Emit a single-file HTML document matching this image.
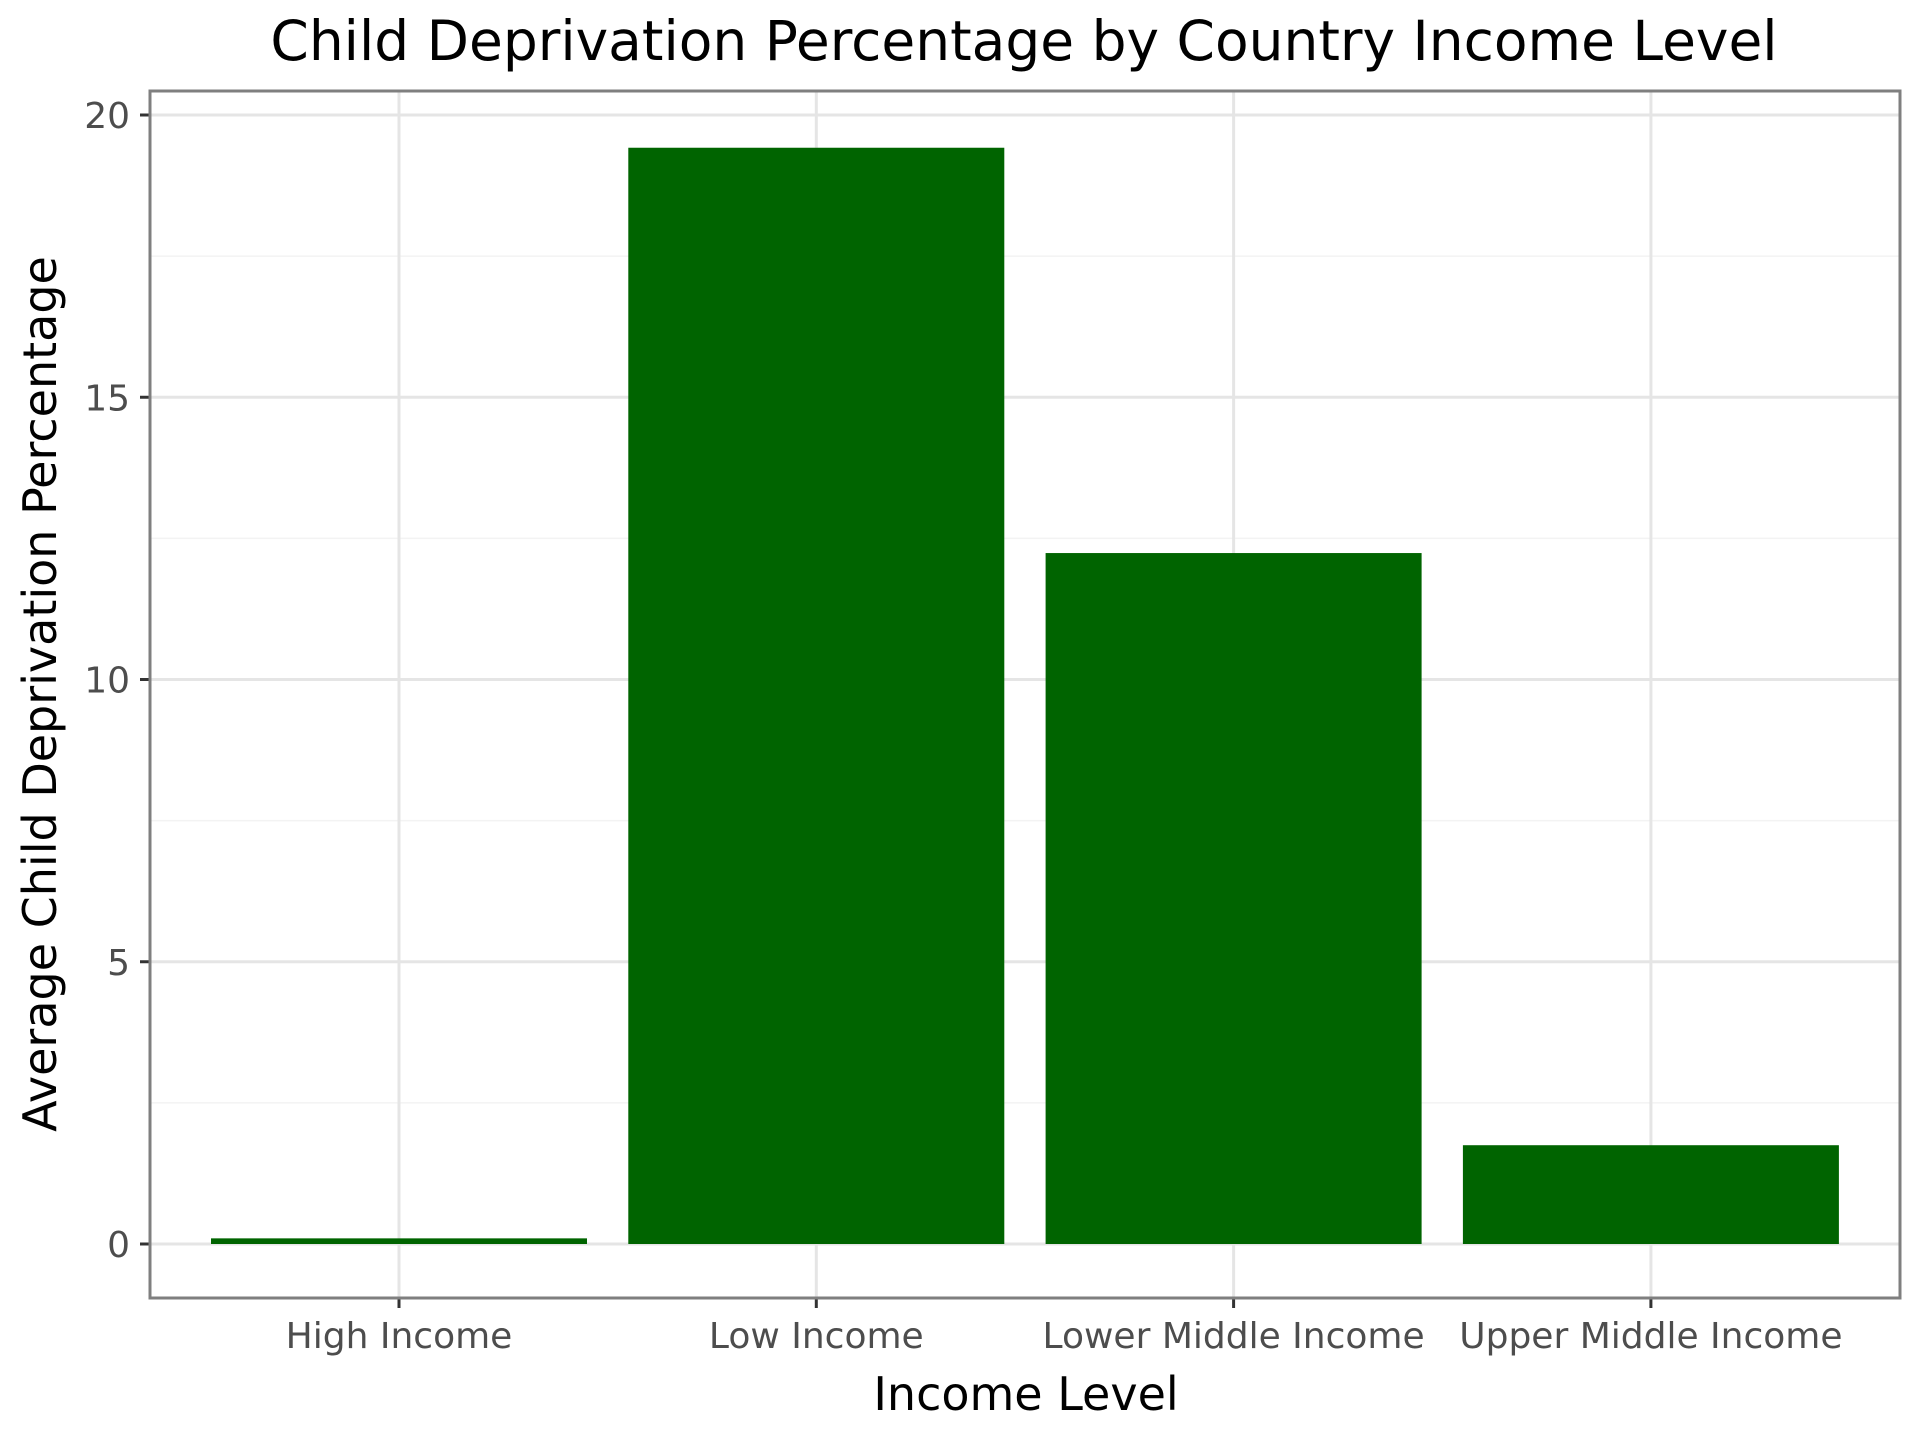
<!DOCTYPE html>
<html><head><meta charset="utf-8"><style>
html,body{margin:0;padding:0;background:#fff}
svg{display:block;font-family:"DejaVu Sans","Liberation Sans",sans-serif}
</style></head><body>
<svg id="chart" width="1920" height="1440">
<text x="1024" y="60" text-anchor="middle" font-size="55" fill="#000">Child Deprivation Percentage by Country Income Level</text>
<g id="grid"></g><g id="bars"></g><g id="axes"></g>
<rect x="150" y="91" width="1750" height="1207" fill="none" stroke="#7f7f7f" stroke-width="3"/>
<text x="1026" y="1410" text-anchor="middle" font-size="46" fill="#000">Income Level</text>
<text transform="translate(56,694) rotate(-90)" text-anchor="middle" font-size="46" fill="#000">Average Child Deprivation Percentage</text>
</svg>
<script>
const categories=["High Income","Low Income","Lower Middle Income","Upper Middle Income"];
const values=[0.1,19.42,12.24,1.75];
const yTicks=[0,5,10,15,20];
const yMinor=[2.5,7.5,12.5,17.5];
const NS="http://www.w3.org/2000/svg";
const y=v=>1244-v*(1244-115)/20;
const x=i=>399+i*417.3;
const bw=376;
function mk(t,a,p){const e=document.createElementNS(NS,t);for(const k in a)e.setAttribute(k,a[k]);p.appendChild(e);return e;}
const g=document.getElementById('grid'),b=document.getElementById('bars'),ax=document.getElementById('axes');
yMinor.forEach(v=>{const l=mk('line',{x1:150,x2:1900,y1:y(v),y2:y(v),stroke:'#f3f3f3','stroke-width':1.5},g);

});
yTicks.forEach(v=>{const l=mk('line',{x1:150,x2:1900,y1:y(v),y2:y(v),stroke:'#e5e5e5','stroke-width':3},g);


const t=mk('line',{x1:140,x2:150,y1:y(v),y2:y(v),stroke:'#333','stroke-width':3},ax);


const tx=mk('text',{x:130,y:y(v)+13,'text-anchor':'end','font-size':36,fill:'#4d4d4d'},ax);tx.textContent=v;

});
categories.forEach((c,i)=>{const l=mk('line',{x1:x(i),x2:x(i),y1:91,y2:1298,stroke:'#e5e5e5','stroke-width':3},g);


const r=mk('rect',{x:x(i)-bw/2,y:y(values[i]),width:bw,height:y(0)-y(values[i]),fill:'#006400'},b);


const t=mk('line',{x1:x(i),x2:x(i),y1:1298,y2:1308,stroke:'#333','stroke-width':3},ax);


const tx=mk('text',{x:x(i),y:1348,'text-anchor':'middle','font-size':36,fill:'#4d4d4d'},ax);tx.textContent=c;

});
</script>
</body></html>
